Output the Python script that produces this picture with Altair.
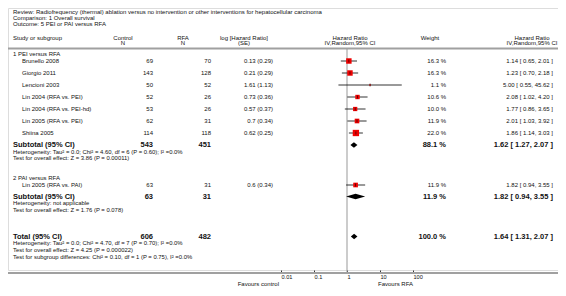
import altair as alt
import pandas as pd

FONT = "Liberation Sans"
TXT = "#111111"

# ---------------- data ----------------
studies = ["Brunello 2008", "Giorgio 2011", "Lencioni 2003", "Lin 2004 (RFA vs. PEI)",
           "Lin 2004 (RFA vs. PEI-hd)", "Lin 2005 (RFA vs. PEI)", "Shiina 2005",
           "Lin 2005 (RFA vs. PAI)"]
ctrl_n = [69, 143, 50, 52, 53, 62, 114, 63]
rfa_n = [70, 128, 52, 26, 26, 31, 118, 31]
log_hr = ["0.13", "0.21", "1.61", "0.73", "0.57", "0.7", "0.62", "0.6"]
log_se = ["0.29", "0.29", "1.13", "0.36", "0.37", "0.34", "0.25", "0.34"]
weight = [16.3, 16.3, 1.1, 10.6, 10.0, 11.9, 22.0, 11.9]
hr = [1.14, 1.23, 5.00, 2.08, 1.77, 2.01, 1.86, 1.82]
hr_lo = [0.65, 0.70, 0.55, 1.02, 0.86, 1.03, 1.14, 0.94]
hr_hi = [2.01, 2.18, 45.62, 4.20, 3.65, 3.92, 3.03, 3.55]

sub_labels = ["Subtotal (95% CI)", "Subtotal (95% CI)", "Total (95% CI)"]
sub_ctrl = [543, 63, 606]
sub_rfa = [451, 31, 482]
sub_w = [88.1, 11.9, 100.0]
sub_hr = [1.62, 1.82, 1.64]
sub_lo = [1.27, 0.94, 1.31]
sub_hi = [2.07, 3.55, 2.07]

group_labels = ["1 PEI versus RFA", "2 PAI versus RFA"]
stat_lines = [
    "Heterogeneity: Tau\u00b2 = 0.0; Chi\u00b2 = 4.60, df = 6 (P = 0.60); I\u00b2 =0.0%",
    "Test for overall effect: Z = 3.86 (P = 0.00011)",
    "Heterogeneity: not applicable",
    "Test for overall effect: Z = 1.76 (P = 0.078)",
    "Heterogeneity: Tau\u00b2 = 0.0; Chi\u00b2 = 4.70, df = 7 (P = 0.70); I\u00b2 =0.0%",
    "Test for overall effect: Z = 4.25 (P = 0.000022)",
    "Test for subgroup differences: Chi\u00b2 = 0.10, df = 1 (P = 0.75), I\u00b2 =0.0%",
]
title_lines = [
    "Review:  Radiofrequency (thermal) ablation versus no intervention or other interventions for hepatocellular carcinoma",
    "Comparison:  1 Overall survival",
    "Outcome:  5 PEI or PAI versus RFA",
]
tick_values = [0.01, 0.1, 1, 10, 100]

# ---------------- layout (row positions, px from top of chart) ----------------
study_rows = [53, 65, 77, 89, 101, 113, 125, 177]
group_rows = [46, 170]
sub_rows = [137, 188.5, 228.5]
stat_rows = [143.5, 150, 195, 201.5, 235, 241.5, 248.5]
title_rows = [4, 10, 16]
H = 262
W = 550
FS = 6.0
FB = 7.5

YS = alt.Scale(domain=[0, H], reverse=True, nice=False, zero=False)
XS = alt.Scale(type="log", domain=[0.01, 100], range=[273, 405], nice=False)
XAX = alt.Axis(values=tick_values, format="~g", domain=False, grid=False, tickSize=2,
               tickColor="#333333", labelFontSize=5.6, labelFont=FONT, labelColor=TXT,
               labelPadding=2, labelAlign="left", labelFlush=False,
               labelOverlap=False, title=None)

st = pd.DataFrame({
    "name": studies, "cn": [str(v) for v in ctrl_n], "rn": [str(v) for v in rfa_n],
    "lg": [f"{a} ({b})" for a, b in zip(log_hr, log_se)],
    "w": weight, "wt": [f"{v:.1f} %" for v in weight],
    "hr": hr, "lo": hr_lo, "hi": hr_hi,
    "hrt": [f"{h:.2f} [ {l:.2f}, {u:.2f} ]" for h, l, u in zip(hr, hr_lo, hr_hi)],
    "y": study_rows,
})
sb = pd.DataFrame({
    "name": sub_labels, "cn": [str(v) for v in sub_ctrl], "rn": [str(v) for v in sub_rfa],
    "wt": [f"{v:.1f} %" for v in sub_w],
    "hrt": [f"{h:.2f} [ {l:.2f}, {u:.2f} ]" for h, l, u in zip(sub_hr, sub_lo, sub_hi)],
    "y": sub_rows,
})
gp = pd.DataFrame({"t": group_labels, "y": group_rows})
stt = pd.DataFrame({"t": stat_lines, "y": stat_rows})
tt = pd.DataFrame({"t": title_lines, "y": title_rows})

# diamonds
dd = []
for i in range(3):
    y0 = sub_rows[i]
    dd.append({"g": i, "x": sub_lo[i], "yt": y0, "yb": y0})
    dd.append({"g": i, "x": sub_hr[i], "yt": y0 - 2.7, "yb": y0 + 2.7})
    dd.append({"g": i, "x": sub_hi[i], "yt": y0, "yb": y0})
dia = pd.DataFrame(dd)

one = pd.DataFrame({"v": [1]})


def txt(df, field, x, align="left", size=FS, bold=False):
    return alt.Chart(df).mark_text(
        align=align, baseline="middle", fontSize=size, font=FONT, color=TXT,
        fontWeight="bold" if bold else "normal"
    ).encode(x=alt.value(x), y=alt.Y("y:Q", scale=YS, axis=None), text=f"{field}:N")


def hdr(lines, x, align="center"):
    df = pd.DataFrame({"t": lines, "y": [29.7, 35.3][:len(lines)]})
    return txt(df, "t", x, align)


layers = [
    hdr(["Study or subgroup"], 5, "left"),
    hdr(["Control", "N"], 115),
    hdr(["RFA", "N"], 175),
    hdr(["log [Hazard Ratio]", "(SE)"], 236),
    hdr(["Hazard Ratio", "IV,Random,95% CI"], 342),
    hdr(["Weight"], 422),
    hdr(["Hazard Ratio", "IV,Random,95% CI"], 524),
    txt(tt, "t", 5),
    txt(gp, "t", 5),
    txt(st, "name", 14),
    txt(st, "cn", 145, "right"),
    txt(st, "rn", 203, "right"),
    txt(st, "lg", 265, "right"),
    txt(st, "wt", 438, "right"),
    txt(st, "hrt", 545, "right"),
    txt(sb, "name", 5, size=FB, bold=True),
    txt(sb, "cn", 145, "right", FB, True),
    txt(sb, "rn", 203, "right", FB, True),
    txt(sb, "wt", 438, "right", FB, True),
    txt(sb, "hrt", 545, "right", FB, True),
    txt(stt, "t", 5, size=5.9),
]

# separators
layers.append(alt.Chart(one).mark_rule(color="#a0a0a0", strokeWidth=2).encode(
    x=alt.value(0), x2=alt.value(W), y=alt.value(40.5)))
layers.append(alt.Chart(one).mark_rule(color="#a0a0a0", strokeWidth=2).encode(
    x=alt.value(0), x2=alt.value(W), y=alt.value(265)))

# null line
layers.append(alt.Chart(one).mark_rule(color="#999999", strokeWidth=1).encode(
    x=alt.X("v:Q", scale=XS, axis=XAX), y=alt.value(41), y2=alt.value(264)))

# CI lines
layers.append(alt.Chart(st).mark_rule(color="#000000", strokeWidth=0.8).encode(
    x=alt.X("lo:Q", scale=XS, axis=XAX), x2="hi:Q", y=alt.Y("y:Q", scale=YS, axis=None)))
# squares
layers.append(alt.Chart(st).mark_square(color="#ee0000", opacity=1).encode(
    x=alt.X("hr:Q", scale=XS, axis=XAX), y=alt.Y("y:Q", scale=YS, axis=None),
    size=alt.Size("w:Q", scale=alt.Scale(domain=[0, 22], range=[0, 40]), legend=None)))
# centre ticks
layers.append(alt.Chart(st).mark_tick(color="#000000", orient="vertical", size=3,
                                      thickness=0.8).encode(
    x=alt.X("hr:Q", scale=XS, axis=XAX), y=alt.Y("y:Q", scale=YS, axis=None)))
# diamonds
layers.append(alt.Chart(dia).mark_area(color="#000000", opacity=1).encode(
    x=alt.X("x:Q", scale=XS, axis=XAX), y=alt.Y("yt:Q", scale=YS, axis=None),
    y2="yb:Q", detail="g:N"))

# favours labels
fav = pd.DataFrame({"t": ["Favours control", "Favours RFA"], "y": [276, 276]})
layers.append(txt(fav.iloc[[0]], "t", 271, "right"))
layers.append(txt(fav.iloc[[1]], "t", 370, "left"))

chart = alt.layer(*layers).properties(
    width=W, height=H,
    autosize=alt.AutoSizeParams(type="none"),
    padding={"left": 0, "top": 0, "right": 0, "bottom": 26},
).configure_view(stroke=None).configure(background="white")

chart.save("out.html", embed_options={"renderer": "svg", "actions": False})
